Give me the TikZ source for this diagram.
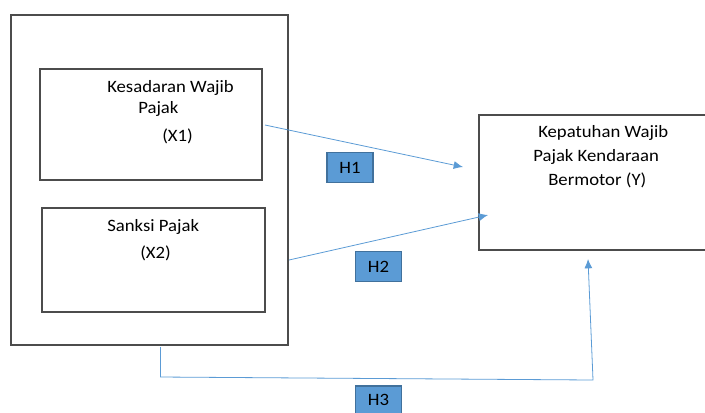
\documentclass[tikz,border=0pt]{standalone}
\usepackage{fontspec}
\setmainfont{Carlito}[FakeStretch=1.08]
\usetikzlibrary{fit,positioning,arrows.meta,calc}
\definecolor{hblue}{RGB}{91,155,213}
\definecolor{hdark}{RGB}{65,113,156}
\tikzset{
	box/.style={rectangle, draw=black!70, line width=0.8pt, inner sep=0pt},
	txt/.style={inner sep=0pt, anchor=base west, font=\fontsize{13}{15}\selectfont},
	hyp/.style={rectangle, fill=hblue, draw=hdark, line width=0.8pt, minimum width=34.5pt, minimum height=22.5pt, inner sep=0pt, font=\fontsize{13}{15}\selectfont},
	connect/.style={-{Latex[length=7pt,width=6pt]}, hblue, line width=0.6pt}
}
\begin{document}
\begin{tikzpicture}[x=0.75pt,y=-0.75pt]
\useasboundingbox (0,0) rectangle (705,412);
\clip (0,0) rectangle (705,412);
% boxes
\node[box, fit={(11,15) (288,345)}] (Frame) {};
\node[box, fit={(40,69) (262,180)}] (X1) {};
\node[box, fit={(42,208) (265,312)}] (X2) {};
\node[box, fit={(479,115) (712,250)}] (Y) {};
% texts
\node[txt] (X1a) at (107,92) {Kesadaran Wajib};
\node[txt] (X1b) at (138,113) {Pajak};
\node[txt] (X1c) at (162,141) {(X1)};
\node[txt] (X2a) at (107,231) {Sanksi Pajak};
\node[txt] (X2b) at (140,258) {(X2)};
\node[txt] (Ya) at (538,137) {Kepatuhan Wajib};
\node[txt] (Yb) at (533,161) {Pajak Kendaraan};
\node[txt] (Yc) at (548,185) {Bermotor (Y)};
% hypotheses
\node[hyp] (H1) at (350,167.5) {H1};
\node[hyp] (H2) at (378.5,266.5) {H2};
\node[hyp, minimum height=21pt] (H3) at (378.5,400) {H3};
% arrow ends
\coordinate (h1s) at (265,125);
\coordinate (h1e) at (463,167);
\coordinate (h2s) at (289,260);
\coordinate (h2e) at (488,215);
\coordinate (h3s) at (160.5,347);
\coordinate (h3a) at (160.5,377);
\coordinate (h3b) at (593,380);
\coordinate (h3e) at (588,259);
\draw[connect] (h1s) -- (h1e);
\draw[connect] (h2s) -- (h2e);
\draw[connect] (h3s) -- (h3a) -- (h3b) -- (h3e);
\end{tikzpicture}
\end{document}
